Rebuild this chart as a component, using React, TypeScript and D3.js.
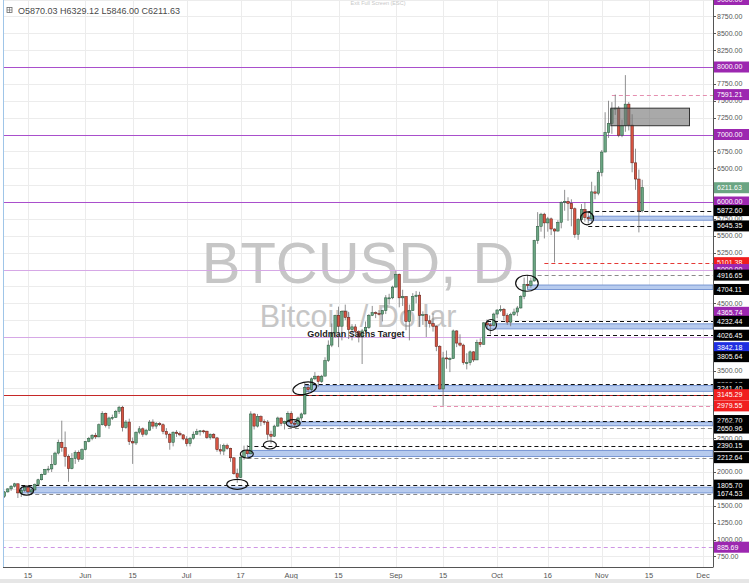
import React from 'react';
import * as d3 from 'd3';

type OHLC = [number, number, number, number];

// ---- data ----
const firstCandleDate = '2017-05-08';

const mayCandles: OHLC[] = [
  [1640, 1720, 1615, 1705], [1705, 1760, 1695, 1750], [1750, 1805, 1720, 1790], [1790, 1840, 1770, 1825],
  [1825, 1830, 1615, 1690], [1690, 1765, 1630, 1730], [1730, 1785, 1705, 1770], [1770, 1775, 1675, 1705],
  [1705, 1750, 1680, 1735], [1735, 1830, 1720, 1815], [1815, 1900, 1800, 1885], [1885, 1975, 1875, 1965],
  [1965, 2045, 1955, 2040], [2040, 2090, 1990, 2045], [2045, 2250, 2000, 2110], [2110, 2300, 2100, 2280],
  [2280, 2480, 2260, 2440], [2440, 2760, 2300, 2360], [2360, 2600, 2080, 2230], [2230, 2260, 1855, 2050],
  [2050, 2280, 2040, 2200], [2200, 2320, 2120, 2290], [2290, 2320, 2150, 2190], [2190, 2350, 2180, 2330],
];
const junCandles: OHLC[] = [
  [2330, 2460, 2320, 2450], [2450, 2520, 2440, 2500], [2500, 2560, 2470, 2545], [2545, 2580, 2490, 2520],
  [2520, 2720, 2515, 2700], [2700, 2900, 2690, 2870], [2870, 2880, 2660, 2690], [2690, 2820, 2640, 2800],
  [2800, 2850, 2770, 2810], [2810, 2920, 2800, 2900], [2900, 2980, 2860, 2960], [2960, 2980, 2600, 2660],
  [2660, 2770, 2640, 2740], [2740, 2790, 2400, 2450], [2450, 2510, 2120, 2430], [2430, 2600, 2400, 2590],
  [2590, 2680, 2560, 2640], [2640, 2660, 2520, 2560], [2560, 2640, 2540, 2620], [2620, 2770, 2610, 2740],
  [2740, 2780, 2640, 2680], [2680, 2740, 2640, 2720], [2720, 2740, 2680, 2700], [2700, 2720, 2560, 2600],
  [2600, 2650, 2500, 2560], [2560, 2580, 2330, 2440], [2440, 2600, 2380, 2590], [2590, 2620, 2520, 2570],
  [2570, 2600, 2530, 2550], [2550, 2560, 2470, 2490],
];
const julCandles: OHLC[] = [
  [2490, 2530, 2380, 2420], [2420, 2520, 2380, 2500], [2500, 2600, 2480, 2560], [2560, 2640, 2550, 2600],
  [2600, 2620, 2540, 2610], [2610, 2625, 2570, 2605], [2605, 2610, 2490, 2510], [2510, 2570, 2480, 2560],
  [2560, 2575, 2500, 2505], [2505, 2520, 2300, 2330], [2330, 2410, 2260, 2310], [2310, 2420, 2250, 2390],
  [2390, 2420, 2330, 2350], [2350, 2360, 2150, 2210], [2210, 2220, 1960, 1975], [1975, 2050, 1840, 1920],
  [1920, 2230, 1910, 2220], [2220, 2390, 2180, 2320], [2320, 2400, 2260, 2270], [2270, 2900, 2260, 2860],
  [2860, 2870, 2630, 2680], [2680, 2860, 2660, 2820], [2820, 2840, 2680, 2750], [2750, 2780, 2700, 2740],
  [2740, 2770, 2480, 2560], [2560, 2610, 2420, 2530], [2530, 2700, 2520, 2680], [2680, 2820, 2670, 2800],
  [2800, 2810, 2680, 2720], [2720, 2760, 2630, 2750], [2750, 2900, 2740, 2870],
];
const augCandles: OHLC[] = [
  [2870, 2900, 2680, 2720], [2720, 2760, 2660, 2710], [2710, 2820, 2700, 2800], [2800, 2880, 2760, 2860],
  [2860, 3330, 2850, 3250], [3250, 3290, 3180, 3220], [3220, 3400, 3200, 3380], [3380, 3480, 3360, 3420],
  [3420, 3430, 3260, 3340], [3340, 3440, 3320, 3420], [3420, 3700, 3420, 3650], [3650, 3950, 3630, 3880],
  [3880, 4200, 3850, 4060], [4060, 4330, 3990, 4320], [4320, 4450, 3850, 4160], [4160, 4390, 3950, 4380],
  [4380, 4480, 4250, 4290], [4290, 4370, 3970, 4110], [4110, 4190, 3950, 4150], [4150, 4190, 4050, 4080],
  [4080, 4100, 3920, 4000], [4000, 4120, 3600, 4090], [4090, 4230, 4070, 4140], [4140, 4340, 4120, 4320],
  [4320, 4460, 4310, 4360], [4360, 4380, 4280, 4350], [4350, 4400, 4320, 4340], [4340, 4400, 4230, 4390],
  [4390, 4620, 4340, 4580], [4580, 4640, 4480, 4580], [4580, 4760, 4560, 4740],
];
const sepCandles: OHLC[] = [
  [4740, 4980, 4730, 4930], [4930, 4940, 4440, 4580], [4580, 4700, 4460, 4600], [4600, 4600, 4100, 4230],
  [4230, 4480, 3950, 4390], [4390, 4650, 4390, 4600], [4600, 4680, 4500, 4620], [4620, 4670, 4150, 4320],
  [4320, 4380, 4180, 4330], [4330, 4340, 4000, 4240], [4240, 4320, 4140, 4200], [4200, 4350, 4080, 4160],
  [4160, 4170, 3790, 3860], [3860, 3880, 3220, 3230], [3230, 3780, 2980, 3690], [3690, 3800, 3530, 3680],
  [3680, 3700, 3480, 3680], [3680, 4110, 3680, 4090], [4090, 4100, 3850, 3910], [3910, 4040, 3860, 3880],
  [3880, 3900, 3590, 3620], [3620, 3760, 3520, 3620], [3620, 3800, 3580, 3780], [3780, 3790, 3630, 3660],
  [3660, 3960, 3660, 3920], [3920, 3980, 3850, 3890], [3890, 4220, 3890, 4210], [4210, 4260, 4130, 4180],
  [4180, 4210, 4040, 4170], [4170, 4360, 4160, 4340],
];
const octCandles: OHLC[] = [
  [4340, 4410, 4280, 4400], [4400, 4470, 4370, 4410], [4410, 4430, 4250, 4320], [4320, 4350, 4180, 4220],
  [4220, 4360, 4160, 4330], [4330, 4420, 4310, 4370], [4370, 4460, 4310, 4430], [4430, 4620, 4420, 4600],
  [4600, 4880, 4560, 4780], [4780, 4920, 4720, 4760], [4760, 4880, 4730, 4830], [4830, 5440, 4820, 5430],
  [5430, 5850, 5380, 5640], [5640, 5840, 5560, 5820], [5820, 5840, 5460, 5690], [5690, 5780, 5560, 5750],
  [5750, 5770, 5510, 5600], [5600, 5610, 5105, 5570], [5570, 5730, 5560, 5700], [5700, 6010, 5610, 5990],
  [5990, 6180, 5870, 6010], [6010, 6070, 5720, 5980], [5980, 6040, 5640, 5900], [5900, 5920, 5470, 5520],
  [5520, 5760, 5440, 5740], [5740, 5970, 5700, 5890], [5890, 6000, 5710, 5770], [5770, 5850, 5680, 5750],
  [5750, 6300, 5680, 6150], [6150, 6240, 6040, 6130], [6130, 6470, 6100, 6440],
];
const novCandles: OHLC[] = [
  [6440, 6770, 6380, 6740], [6740, 7330, 6740, 7030], [7030, 7500, 6950, 7160], [7160, 7480, 7010, 7380],
  [7380, 7591.21, 7290, 7390], [7390, 7420, 6960, 6990], [6990, 7220, 6960, 7130], [7130, 7880, 7040, 7450],
  [7450, 7480, 7060, 7140], [7140, 7300, 6440, 6580], [6580, 6790, 6180, 6340], [6340, 6480, 5550, 5870],
  [5870.03, 6329.12, 5846.0, 6211.63],
];

const timeTickDates = ['2017-05-15', '2017-06-01', '2017-06-15', '2017-07-01', '2017-07-17', '2017-08-01', '2017-08-15',
  '2017-09-01', '2017-09-15', '2017-10-01', '2017-10-16', '2017-11-01', '2017-11-15', '2017-12-01'];
const timeTickLabels = ['15', 'Jun', '15', 'Jul', '17', 'Aug', '15', 'Sep', '15', 'Oct', '16', 'Nov', '15', 'Dec'];

const majorLevels = [8000, 7000, 6000];
const minorLevels = [5000, 4000];
const redLevels = [3145.29];

const blackDashed = [
  { start: '2017-05-13', price: 1805.7 }, { start: '2017-07-19', price: 2390.15 }, { start: '2017-07-31', price: 2762.7 },
  { start: '2017-08-05', price: 3300.17 }, { start: '2017-08-05', price: 3138 }, { start: '2017-09-28', price: 4232.44 },
  { start: '2017-09-28', price: 4026.45 }, { start: '2017-10-28', price: 5872.6 }, { start: '2017-10-28', price: 5645.35 },
];
const greyDashed = [
  { start: '2017-05-13', price: 1674.53 }, { start: '2017-07-19', price: 2212.64 }, { start: '2017-07-31', price: 2650.96 },
  { start: '2017-10-13', price: 4916.65 },
];
const redDashed = [{ start: '2017-10-15', price: 5101.38 }];
const pinkDashed = [{ start: '2017-09-12', price: 2979.55 }, { start: '2017-11-04', price: 7591.21 }];
const violetDashed = [{ start: '2017-05-01', price: 885.69 }];

const blueZones = [
  { start: '2017-05-13', hi: 1775, lo: 1690 }, { start: '2017-07-19', hi: 2320, lo: 2230 },
  { start: '2017-07-31', hi: 2740, lo: 2685 }, { start: '2017-08-05', hi: 3280, lo: 3195 },
  { start: '2017-09-28', hi: 4195, lo: 4120 }, { start: '2017-10-10', hi: 4770, lo: 4704 },
  { start: '2017-10-28', hi: 5790, lo: 5730 },
];
const greyBox = { start: '2017-11-03T17:00Z', end: '2017-11-27T00:00Z', top: 7390, bottom: 7130 };

const ellipseAnchors = [
  { date: '2017-05-14T14:00Z', price: 1723 }, { date: '2017-07-16T00:00Z', price: 1818 },
  { date: '2017-07-18T20:00Z', price: 2267 }, { date: '2017-07-25T16:00Z', price: 2400 },
  { date: '2017-08-01T14:00Z', price: 2721 }, { date: '2017-08-05T00:00Z', price: 3240 },
  { date: '2017-09-29T05:00Z', price: 4178 }, { date: '2017-10-09T20:00Z', price: 4796 },
  { date: '2017-10-27T16:00Z', price: 5758 },
];
const ellipseRadii: [number, number, number][] = [
  [7, 4.5, 0], [10.5, 5, 0], [6.5, 4, 0], [6.5, 4, 0], [7, 3.8, 0], [12, 6, -12], [5.5, 5.5, 0], [11.3, 8, 0], [6.5, 6.5, 0],
];
const noteText = { date: '2017-08-05T17:00Z', price: 4007, text: 'Goldman Sachs Target' };

const purpleBadges = [9000, 8000, 7591.21, 7000, 6000, 5000, 4365.74, 885.69];
const blackBadges = [5872.6, 5645.35, 4916.65, 4704.11, 4232.44, 4026.45, 3805.64, 3300.17, 3241.4, 2762.7, 2650.96,
  2390.15, 2212.64, 1805.7, 1674.53];
const redBadges = [5101.38, 3145.29, 2979.55];
const blueBadges = [3842.18];
const lastPrice = 6211.63;

const headerText = 'O5870.03 H6329.12 L5846.00 C6211.63';

// ---- drawing ----
const W = 749, H = 583;
const paneL = 3, paneR = 713, paneB = 567;
const FONT = '"Liberation Sans", Arial, sans-serif';

const parse = (s: string) => new Date(s.length === 10 ? s + 'T00:00:00Z' : s);

export default function App() {
  const x = d3.scaleUtc().domain([parse('2017-05-15'), parse('2017-12-01')]).range([28, 703]);
  const y = d3.scaleLinear().domain([0, 9000]).range([607, -0.5]);
  const candles = [...mayCandles, ...junCandles, ...julCandles, ...augCandles, ...sepCandles, ...octCandles, ...novCandles];
  const d0 = parse(firstCandleDate);
  const priceTicks = d3.range(750, 9001, 250);
  const fmt = d3.format('.2f');
  const bw = 2.5;

  type Badge = { p: number; fill: string; yy: number };
  const badges: Badge[] = [
    ...purpleBadges.map((p) => ({ p, fill: '#9c27b0', yy: 0 })),
    ...blackBadges.map((p) => ({ p, fill: '#000000', yy: 0 })),
    ...redBadges.map((p) => ({ p, fill: '#f01e1e', yy: 0 })),
    ...blueBadges.map((p) => ({ p, fill: '#1f2ee0', yy: 0 })),
    { p: lastPrice, fill: '#6ba583', yy: 0 },
  ].sort((a, b) => b.p - a.p);
  let prev = -100;
  badges.forEach((b) => {
    let yy = y(b.p);
    if (yy - prev < 3.5) yy = prev + 9;
    b.yy = yy;
    prev = yy;
  });
  const visibleTicks = priceTicks.filter((p) => !badges.some((b) => Math.abs(b.yy - y(p)) < 5.5));

  const hline = (key: string, p: number, x1: number, stroke: string, dash?: string, sw = 1) => (
    <line key={key} x1={x1} x2={paneR} y1={Math.round(y(p)) + 0.5} y2={Math.round(y(p)) + 0.5}
      stroke={stroke} strokeWidth={sw} strokeDasharray={dash} />
  );

  return (
    <div style={{ position: 'absolute', left: 0, top: 0, width: W, height: H, background: '#fff' }}>
      <svg width={W} height={H} style={{ display: 'block', fontFamily: FONT }}>
        <defs>
          <clipPath id="pane"><rect x={paneL} y={0} width={paneR - paneL} height={paneB} /></clipPath>
        </defs>
        <rect width={W} height={H} fill="#fff" />
        <g clipPath="url(#pane)">
          {/* grid */}
          {priceTicks.map((p) => (
            <line key={'hg' + p} x1={paneL} x2={paneR} y1={Math.round(y(p)) + 0.5} y2={Math.round(y(p)) + 0.5} stroke="#ececec" />
          ))}
          {timeTickDates.map((d) => (
            <line key={'vg' + d} x1={Math.round(x(parse(d))) + 0.5} x2={Math.round(x(parse(d))) + 0.5} y1={0} y2={paneB} stroke="#ececec" />
          ))}
          {/* watermark */}
          <text x={358} y={283} textAnchor="middle" fontSize={58} fill="#c6c6c6">BTCUSD, D</text>
          <text x={358} y={327} textAnchor="middle" fontSize={30.5} fill="#c6c6c6">Bitcoin / Dollar</text>
          {/* levels */}
          {majorLevels.map((p) => hline('mj' + p, p, paneL, '#a94fcc'))}
          {minorLevels.map((p) => hline('mn' + p, p, paneL, '#d6a8e6'))}
          {redLevels.map((p) => hline('rl' + p, p, paneL, '#c62828'))}
          {violetDashed.map((l, i) => hline('vd' + i, l.price, x(parse(l.start)), '#cf96e4', '4 3'))}
          {pinkDashed.map((l, i) => hline('pd' + i, l.price, x(parse(l.start)), '#e58fb0', '4 3'))}
          {redDashed.map((l, i) => hline('rd' + i, l.price, x(parse(l.start)), '#e53935', '4 3'))}
          {greyDashed.map((l, i) => hline('gd' + i, l.price, x(parse(l.start)), '#8a8a8a', '4 3'))}
          {blueZones.map((z, i) => (
            <rect key={'bz' + i} x={x(parse(z.start))} y={y(z.hi)} width={paneR - x(parse(z.start))} height={y(z.lo) - y(z.hi)}
              fill="#b7cbee" stroke="#6f8fcf" strokeWidth={0.9} />
          ))}
          {blackDashed.map((l, i) => hline('bd' + i, l.price, x(parse(l.start)), '#111', '4 3'))}
          {/* candles */}
          {candles.map((c, i) => {
            const [o, h, l, cl] = c;
            const cx = x(d3.utcDay.offset(d0, i));
            const up = cl >= o;
            const top = y(Math.max(o, cl));
            const bh = Math.max(1, Math.abs(y(o) - y(cl)));
            return (
              <g key={'c' + i}>
                <line x1={cx} x2={cx} y1={y(h)} y2={y(l)} stroke="#737375" strokeWidth={0.8} />
                <rect x={cx - bw / 2} y={top} width={bw} height={bh}
                  fill={up ? '#6ba583' : '#d75442'} stroke={up ? '#225437' : '#5b1a13'} strokeWidth={0.5} />
              </g>
            );
          })}
          {/* grey box */}
          <rect x={x(parse(greyBox.start))} y={y(greyBox.top)} width={x(parse(greyBox.end)) - x(parse(greyBox.start))}
            height={y(greyBox.bottom) - y(greyBox.top)} fill="#6f6f6f" fillOpacity={0.6} stroke="#333" strokeWidth={1} />
          {/* ellipses */}
          {ellipseAnchors.map((e, i) => {
            const ex = x(parse(e.date)), ey = y(e.price);
            const [rx, ry, rot] = ellipseRadii[i];
            return <ellipse key={'el' + i} cx={ex} cy={ey} rx={rx} ry={ry} transform={`rotate(${rot} ${ex} ${ey})`}
              fill="none" stroke="#111" strokeWidth={1.2} />;
          })}
          <text x={x(parse(noteText.date))} y={y(noteText.price)} fontSize={9} fontWeight="bold" fill="#222">{noteText.text}</text>
        </g>
        {/* frame */}
        <line x1={paneL + 0.5} x2={paneL + 0.5} y1={0} y2={paneB} stroke="#9fc5e8" />
        <line x1={paneR + 0.5} x2={paneR + 0.5} y1={0} y2={paneB} stroke="#555" />
        <line x1={paneL} x2={paneR + 0.5} y1={paneB + 0.5} y2={paneB + 0.5} stroke="#555" />
        {/* price axis */}
        {priceTicks.map((p) => (
          <line key={'ptk' + p} x1={paneR} x2={paneR + 3} y1={Math.round(y(p)) + 0.5} y2={Math.round(y(p)) + 0.5} stroke="#555" />
        ))}
        {visibleTicks.map((p) => (
          <text key={'pt' + p} x={paneR + 4} y={y(p)} dy="0.35em" fontSize={7} fill="#555">{fmt(p)}</text>
        ))}
        {badges.map((b, i) => (
          <g key={'bd' + i}>
            <rect x={paneR + 1} y={b.yy - 5.5} width={W - paneR} height={11} fill={b.fill} />
            <text x={paneR + 4} y={b.yy} dy="0.35em" fontSize={7} fill="#fff">{fmt(b.p)}</text>
          </g>
        ))}
        {/* time axis */}
        {timeTickDates.map((d, i) => (
          <text key={'tt' + d} x={x(parse(d))} y={575} dy="0.35em" textAnchor="middle" fontSize={7.5} fill="#555">{timeTickLabels[i]}</text>
        ))}
        <rect x={0} y={579} width={W} height={H - 579} fill="#e6e6e6" />
        {/* header */}
        <rect x={7} y={7.5} width={5} height={5} fill="none" stroke="#666" strokeWidth={0.8} />
        <line x1={9.5} x2={9.5} y1={7.5} y2={12.5} stroke="#666" strokeWidth={0.6} />
        <line x1={7} x2={12} y1={10} y2={10} stroke="#666" strokeWidth={0.6} />
        <text x={18} y={10.5} dy="0.35em" fontSize={9} fill="#4a4a4a">{headerText}</text>
        <text x={378} y={5} textAnchor="middle" fontSize={5.5} fill="#c8c8c8">Exit Full Screen (ESC)</text>
      </svg>
    </div>
  );
}
